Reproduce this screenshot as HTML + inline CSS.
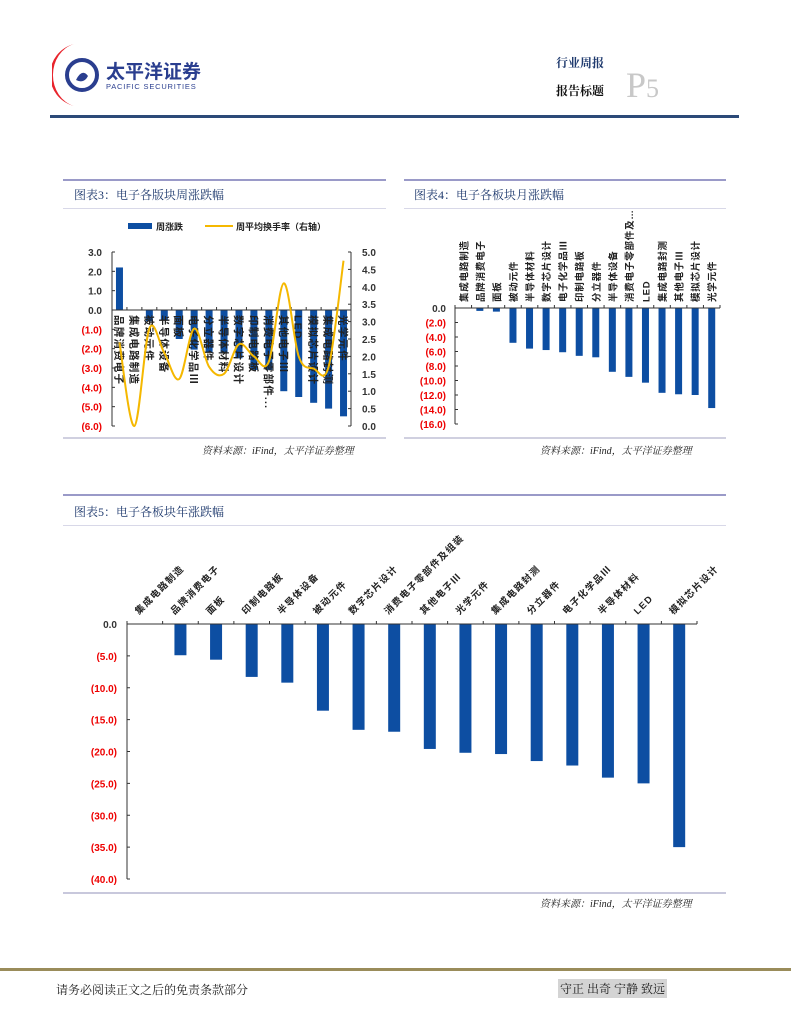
<!DOCTYPE html>
<html><head><meta charset="utf-8">
<style>
body{margin:0;width:791px;height:1024px;background:#fff;position:relative;overflow:hidden;font-family:"Liberation Sans","Noto Sans CJK SC",sans-serif}
.abs{position:absolute}
.title{font-family:"Liberation Serif","Noto Serif CJK SC",serif;font-size:12px;color:#1f3a6e}
.src{font-family:"Liberation Serif","Noto Serif CJK SC",serif;font-size:10px;font-style:italic;color:#222}
svg text{font-family:"Liberation Sans","Noto Sans CJK SC",sans-serif}
</style></head><body>
<div class="abs" style="left:0;top:0;width:791px;height:120px">
<svg class="abs" style="left:52px;top:40px" width="160" height="70">
<path d="M22 4 A32 32 0 0 0 22 66 A28 32 0 0 1 22 4Z" fill="#e8242c"/>
<circle cx="30" cy="35" r="15" fill="none" stroke="#2a3e8f" stroke-width="4"/>
<path d="M24 40 q6 -12 12 -4 q-4 8 -12 4z" fill="#2a3e8f"/>
<text x="54" y="38" font-size="19" font-weight="bold" fill="#2a3e8f">太平洋证券</text>
<text x="54" y="49" font-size="7.5" fill="#2a3e8f" letter-spacing="0.8">PACIFIC SECURITIES</text>
</svg>
<div class="abs" style="left:556px;top:54px;font-size:12px;font-weight:bold;color:#1f3a6e;font-family:'Liberation Serif','Noto Serif CJK SC',serif">行业周报</div>
<div class="abs" style="left:556px;top:82px;font-size:12px;font-weight:bold;color:#111;font-family:'Liberation Serif','Noto Serif CJK SC',serif">报告标题</div>
<div class="abs" style="left:626px;top:64px;font-size:36px;color:#c8c8c8;font-family:'Liberation Serif',serif">P<span style="font-size:26px">5</span></div>
<div class="abs" style="left:50px;top:115px;width:689px;height:3px;background:#2c4a78"></div>
</div>

<div class="abs" style="left:63px;top:179px;width:323px;height:2px;background:#9a9ac8"></div>
<div class="abs title" style="left:74px;top:186px">图表3：电子各版块周涨跌幅</div>
<div class="abs" style="left:63px;top:208px;width:323px;height:1px;background:#d8d8e8"></div>
<div class="abs" style="left:63px;top:437px;width:323px;height:2px;background:#d0d0e0"></div>
<div class="abs src" style="left:202px;top:442px">资料来源：iFind，太平洋证券整理</div>
<svg class="abs" id="c3" style="left:0;top:0" width="791" height="1024"></svg>

<div class="abs" style="left:404px;top:179px;width:322px;height:2px;background:#9a9ac8"></div>
<div class="abs title" style="left:414px;top:186px">图表4：电子各板块月涨跌幅</div>
<div class="abs" style="left:404px;top:208px;width:322px;height:1px;background:#d8d8e8"></div>
<div class="abs" style="left:404px;top:437px;width:322px;height:2px;background:#d0d0e0"></div>
<div class="abs src" style="left:540px;top:442px">资料来源：iFind，太平洋证券整理</div>

<div class="abs" style="left:63px;top:494px;width:663px;height:2px;background:#9a9ac8"></div>
<div class="abs title" style="left:74px;top:503px">图表5：电子各板块年涨跌幅</div>
<div class="abs" style="left:63px;top:525px;width:663px;height:1px;background:#d8d8e8"></div>
<div class="abs" style="left:63px;top:892px;width:663px;height:2px;background:#c8c8dc"></div>
<div class="abs src" style="left:540px;top:895px">资料来源：iFind，太平洋证券整理</div>

<div class="abs" style="left:0;top:968px;width:791px;height:3px;background:#9a8c5a"></div>
<div class="abs" style="left:56px;top:981px;font-size:12px;color:#222;font-family:'Liberation Serif','Noto Serif CJK SC',serif">请务必阅读正文之后的免责条款部分</div>
<div class="abs" style="left:558px;top:979px;padding:1px 2px;background:#d4d4d4;font-size:12px;color:#222;font-family:'Liberation Serif','Noto Serif CJK SC',serif">守正 出奇 宁静 致远</div>

<script>
const NS="http://www.w3.org/2000/svg";
const svg=document.getElementById('c3');
function mk(tag,attrs,parent,txt){const e=document.createElementNS(NS,tag);for(const k in attrs)e.setAttribute(k,attrs[k]);if(txt!==undefined)e.textContent=txt;(parent||svg).appendChild(e);return e;}
const BLUE="#0d4ea2";
function fmt(v){return v<0?"("+Math.abs(v).toFixed(1)+")":v.toFixed(1);}

const c3Categories=["品牌消费电子","集成电路制造","被动元件","半导体设备","面板","电子化学品Ⅲ","分立器件","半导体材料","数字芯片设计","印制电路板","消费电子零部件...","其他电子Ⅲ","LED","模拟芯片设计","集成电路封测","光学元件"];
const c3Change=[2.2,0,-0.58,-0.5,-1.5,-2.05,-2.2,-2.25,-2.5,-3.1,-3.1,-4.2,-4.5,-4.8,-5.1,-5.5];
const c3Turnover=[2.4,0.0,2.8,2.1,1.35,2.8,1.7,1.5,2.35,2.0,1.85,4.1,2.0,1.65,1.7,4.75];
const c3LeftTicks=[3,2,1,0,-1,-2,-3,-4,-5,-6];
const c3RightTicks=[5,4.5,4,3.5,3,2.5,2,1.5,1,0.5,0];

(function(){
 const x0=112,x1=351,yTop=252,yBot=426;
 const yL=v=>yTop+(3-v)/9*(yBot-yTop);
 const yR=v=>yBot-(v/5)*(yBot-yTop);
 const bw=(x1-x0)/c3Categories.length;
 const cx=i=>x0+bw*(i+0.5);
 const g=mk('g',{});
 
 const lg=mk('rect',{x:128,y:223,width:24,height:6,fill:BLUE},g);
 
 mk('text',{x:156,y:230,'font-size':9,fill:'#222','font-weight':'bold'},g,'周涨跌');
 const ll=mk('line',{x1:205,y1:226,x2:233,y2:226,stroke:'#f5b800','stroke-width':2},g);
 
 mk('text',{x:236,y:230,'font-size':9,fill:'#222','font-weight':'bold'},g,'周平均换手率（右轴）');
 c3Change.forEach((v,i)=>{
  const y0=yL(0),y=yL(v);
  const r=mk('rect',{x:cx(i)-3.5,y:Math.min(y0,y),width:7,height:Math.abs(y-y0),fill:BLUE},g);
  
 });
 mk('line',{x1:x0,y1:yTop,x2:x0,y2:yBot,stroke:'#333','stroke-width':1},g);
 mk('line',{x1:x1,y1:yTop,x2:x1,y2:yBot,stroke:'#333','stroke-width':1},g);
 mk('line',{x1:x0,y1:yL(0),x2:x1,y2:yL(0),stroke:'#333','stroke-width':1},g);
 c3LeftTicks.forEach(v=>{
  mk('line',{x1:x0,y1:yL(v),x2:x0+3,y2:yL(v),stroke:'#333'},g);
  const t=mk('text',{x:102,y:yL(v)+4,'font-size':10,'font-weight':'bold','text-anchor':'end',fill:v<0?'#e00':'#333'},g,fmt(v));
  
 });
 c3RightTicks.forEach(v=>{
  mk('line',{x1:x1,y1:yR(v),x2:x1-3,y2:yR(v),stroke:'#333'},g);
  const t=mk('text',{x:362,y:yR(v)+4,'font-size':10,'font-weight':'bold',fill:'#333'},g,v.toFixed(1));
  
 });
 for(let i=0;i<=c3Categories.length;i++) mk('line',{x1:x0+bw*i,y1:yL(0),x2:x0+bw*i,y2:yL(0)-3,stroke:'#333'},g);
 c3Categories.forEach((c,i)=>{
  const t=mk('text',{x:0,y:0,'font-size':10.5,'font-weight':'bold','letter-spacing':1.2,fill:'#222',transform:`translate(${cx(i)-4},${yL(0)+5}) rotate(90)`},g,c);
  
 });
 const pts=c3Turnover.map((v,i)=>[cx(i),yR(v)]);
 let d=`M${pts[0][0]},${pts[0][1]}`;
 for(let i=0;i<pts.length-1;i++){
  const p0=pts[i-1]||pts[i],p1=pts[i],p2=pts[i+1],p3=pts[i+2]||p2;
  const c1=[p1[0]+(p2[0]-p0[0])/6,p1[1]+(p2[1]-p0[1])/6];
  const c2=[p2[0]-(p3[0]-p1[0])/6,p2[1]-(p3[1]-p1[1])/6];
  d+=` C${c1[0]},${c1[1]} ${c2[0]},${c2[1]} ${p2[0]},${p2[1]}`;
 }
 const line=mk('path',{d:d,fill:'none',stroke:'#f5b800','stroke-width':2},g);
 
})();

const c4Categories=["集成电路制造","品牌消费电子","面板","被动元件","半导体材料","数字芯片设计","电子化学品Ⅲ","印制电路板","分立器件","半导体设备","消费电子零部件及…","LED","集成电路封测","其他电子Ⅲ","模拟芯片设计","光学元件"];
const c4Values=[0,-0.4,-0.5,-4.8,-5.6,-5.8,-6.1,-6.6,-6.8,-8.8,-9.5,-10.3,-11.7,-11.9,-12.0,-13.8];
const c4Ticks=[0,-2,-4,-6,-8,-10,-12,-14,-16];

(function(){
 const x0=455,x1=720,y0=308,yB=424;
 const y=v=>y0+(-v/16)*(yB-y0);
 const bw=(x1-x0)/c4Categories.length;
 const cx=i=>x0+bw*(i+0.5);
 const g=mk('g',{});
 
 c4Values.forEach((v,i)=>{
  const r=mk('rect',{x:cx(i)-3.5,y:y0,width:7,height:y(v)-y0,fill:BLUE},g);
  
 });
 mk('line',{x1:x0,y1:y0,x2:x0,y2:yB,stroke:'#333'},g);
 mk('line',{x1:x0,y1:y0,x2:x1,y2:y0,stroke:'#333'},g);
 for(let i=0;i<=c4Categories.length;i++) mk('line',{x1:x0+bw*i,y1:y0,x2:x0+bw*i,y2:y0-3,stroke:'#333'},g);
 c4Ticks.forEach(v=>{
  mk('line',{x1:x0,y1:y(v),x2:x0+3,y2:y(v),stroke:'#333'},g);
  const t=mk('text',{x:446,y:y(v)+4,'font-size':10,'font-weight':'bold','text-anchor':'end',fill:v<0?'#e00':'#333'},g,fmt(v));
  
 });
 c4Categories.forEach((c,i)=>{
  const t=mk('text',{x:0,y:0,'font-size':9.5,'font-weight':'bold','letter-spacing':0.8,fill:'#222',transform:`translate(${cx(i)+4},${y0-6}) rotate(-90)`},g,c);
  
 });
})();

const c5Categories=["集成电路制造","品牌消费电子","面板","印制电路板","半导体设备","被动元件","数字芯片设计","消费电子零部件及组装","其他电子Ⅲ","光学元件","集成电路封测","分立器件","电子化学品Ⅲ","半导体材料","LED","模拟芯片设计"];
const c5Values=[0,-4.9,-5.6,-8.3,-9.2,-13.6,-16.6,-16.9,-19.6,-20.2,-20.4,-21.5,-22.2,-24.1,-25.0,-35.0];
const c5Ticks=[0,-5,-10,-15,-20,-25,-30,-35,-40];

(function(){
 const x0=127,x1=697,y0=624,yB=879;
 const y=v=>y0+(-v/40)*(yB-y0);
 const bw=(x1-x0)/c5Categories.length;
 const cx=i=>x0+bw*(i+0.5);
 const g=mk('g',{});
 
 c5Values.forEach((v,i)=>{
  const r=mk('rect',{x:cx(i)-6,y:y0,width:12,height:y(v)-y0,fill:BLUE},g);
  
 });
 mk('line',{x1:x0,y1:y0,x2:x0,y2:yB,stroke:'#333'},g);
 mk('line',{x1:x0,y1:y0,x2:x1,y2:y0,stroke:'#333'},g);
 for(let i=0;i<=c5Categories.length;i++) mk('line',{x1:x0+bw*i,y1:y0,x2:x0+bw*i,y2:y0-3,stroke:'#333'},g);
 c5Ticks.forEach(v=>{
  mk('line',{x1:x0,y1:y(v),x2:x0+3,y2:y(v),stroke:'#333'},g);
  const t=mk('text',{x:117,y:y(v)+4,'font-size':10,'font-weight':'bold','text-anchor':'end',fill:v<0?'#e00':'#333'},g,fmt(v));
  
 });
 c5Categories.forEach((c,i)=>{
  const t=mk('text',{x:0,y:0,'font-size':9.5,'font-weight':'bold','letter-spacing':1.3,fill:'#222','text-anchor':'start',transform:`translate(${cx(i)-6},${y0-9}) rotate(-45)`},g,c);
  
 });
})();
</script>
</body></html>
